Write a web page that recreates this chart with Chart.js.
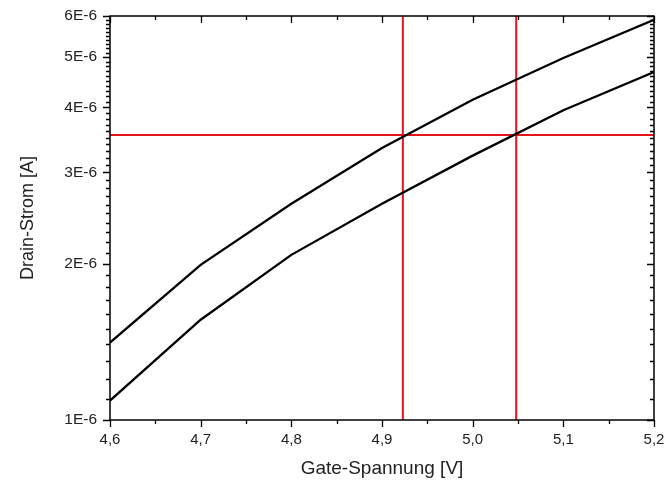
<!DOCTYPE html>
<html>
<head>
<meta charset="utf-8">
<script src="https://cdn.jsdelivr.net/npm/chart.js@4.4.1/dist/chart.umd.min.js"></script>
<style>
  html, body { margin: 0; padding: 0; background: #fff; }
  #wrap { width: 669px; height: 482px; }
</style>
</head>
<body>
<div id="wrap"><canvas id="chart" width="669" height="482"></canvas></div>
<script>
// Gate-Spannung [V]
const gateVoltage = [4.6, 4.7, 4.8, 4.9, 5.0, 5.1, 5.2];
// Drain-Strom [A], two curves
const drainUpper = [1.41e-6, 1.99e-6, 2.61e-6, 3.34e-6, 4.14e-6, 4.98e-6, 5.90e-6];
const drainLower = [1.09e-6, 1.56e-6, 2.08e-6, 2.61e-6, 3.23e-6, 3.95e-6, 4.68e-6];

// red marker lines
const markerCurrent = 3.54e-6;
const markerVoltages = [4.923, 5.048];

// axis ticks
const xMajorTicks = [4.6, 4.7, 4.8, 4.9, 5.0, 5.1, 5.2];
const xMinorTicks = [4.65, 4.75, 4.85, 4.95, 5.05, 5.15];
const yMajorTicks = [1e-6, 2e-6, 3e-6, 4e-6, 5e-6, 6e-6];

const xMin = 4.6, xMax = 5.2, yMin = 1e-6, yMax = 6e-6;
const fontFamily = 'Liberation Sans, Arial, sans-serif';

function toPoints(xs, ys) {
    return xs.map((x, i) => ({ x: x, y: ys[i] }));
}

const datasets = [
    { data: toPoints(gateVoltage, drainUpper), borderColor: '#000', borderWidth: 2.3 },
    { data: toPoints(gateVoltage, drainLower), borderColor: '#000', borderWidth: 2.3 },
    { data: [{ x: xMin, y: markerCurrent }, { x: xMax, y: markerCurrent }], borderColor: '#e8141c', borderWidth: 2 }
];
markerVoltages.forEach(v => {
    datasets.push({ data: [{ x: v, y: yMin }, { x: v, y: yMax }], borderColor: '#e8141c', borderWidth: 2 });
});
datasets.forEach(d => {
    d.pointRadius = 0;
    d.tension = 0;
    d.fill = false;
});

// frame box and tick marks on all four sides
const framePlugin = {
    id: 'frame',
    afterDraw(chart) {
        const { ctx, chartArea: a, scales } = chart;
        const xs = scales.x, ys = scales.y;
        ctx.save();
        ctx.strokeStyle = '#000';
        ctx.lineWidth = 1.5;
        ctx.strokeRect(a.left, a.top, a.right - a.left, a.bottom - a.top);

        ctx.lineWidth = 1.3;
        ctx.beginPath();
        const xTick = (v, len) => {
            const px = Math.round(xs.getPixelForValue(v)) + 0.5;
            ctx.moveTo(px, a.bottom); ctx.lineTo(px, a.bottom + len);
            ctx.moveTo(px, a.top); ctx.lineTo(px, a.top + len);
        };
        xMajorTicks.forEach(v => xTick(v, 7));
        xMinorTicks.forEach(v => xTick(v, 4));

        const yTick = (v, len) => {
            const py = Math.round(ys.getPixelForValue(v)) + 0.5;
            ctx.moveTo(a.left, py); ctx.lineTo(a.left - len, py);
            ctx.moveTo(a.right, py); ctx.lineTo(a.right - len, py);
        };
        yMajorTicks.forEach(v => yTick(v, 7));
        for (let i = 1; i < yMajorTicks.length; i++) {
            const lo = yMajorTicks[i - 1];
            for (let k = 1; k < 10; k++) yTick(lo + k * lo / (i * 10), 4);
        }
        ctx.stroke();
        ctx.restore();
    }
};

new Chart(document.getElementById('chart'), {
    type: 'line',
    data: { datasets: datasets },
    plugins: [framePlugin],
    options: {
        responsive: false,
        animation: false,
        layout: { padding: { left: 0, right: 15, top: 16, bottom: 0 } },
        plugins: { legend: { display: false }, tooltip: { enabled: false } },
        scales: {
            x: {
                type: 'linear',
                min: xMin,
                max: xMax,
                afterBuildTicks: s => { s.ticks = xMajorTicks.map(v => ({ value: v })); },
                afterFit: s => { s.height = 62; s.paddingLeft = 0; s.paddingRight = 0; },
                grid: { display: false, drawTicks: false },
                border: { display: false },
                ticks: {
                    padding: 11,
                    color: '#222',
                    font: { family: fontFamily, size: 15 },
                    callback: v => v.toFixed(1).replace('.', ',')
                },
                title: {
                    display: true,
                    text: 'Gate-Spannung [V]',
                    color: '#222',
                    font: { family: fontFamily, size: 19 },
                    padding: { top: 0, bottom: 2 }
                }
            },
            y: {
                type: 'logarithmic',
                min: yMin,
                max: yMax,
                afterBuildTicks: s => { s.ticks = yMajorTicks.map(v => ({ value: v })); },
                afterFit: s => { s.width = 110; s.paddingTop = 0; s.paddingBottom = 0; },
                grid: { display: false, drawTicks: false },
                border: { display: false },
                ticks: {
                    padding: 13,
                    color: '#222',
                    font: { family: fontFamily, size: 15.5 },
                    callback: v => Math.round(v * 1e6) + 'E-6'
                },
                title: {
                    display: true,
                    text: 'Drain-Strom [A]',
                    color: '#222',
                    font: { family: fontFamily, size: 18 },
                    padding: { top: 17, bottom: 0 }
                }
            }
        }
    }
});
</script>
</body>
</html>
